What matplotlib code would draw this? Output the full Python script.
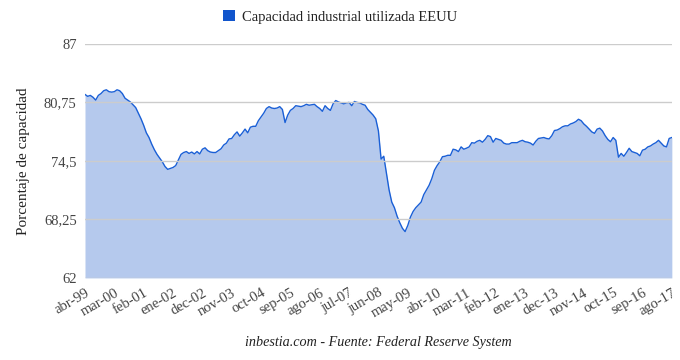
import matplotlib
matplotlib.use("Agg")
import matplotlib.pyplot as plt
from matplotlib.patches import Patch

# Capacidad industrial utilizada EEUU, mensual abr-99 .. ago-17
utilizacion = [
    81.6, 81.4, 81.5, 81.3, 81.0, 81.5, 81.7, 82.0, 82.1, 81.9,
    81.85, 81.9, 82.1, 82.0, 81.7, 81.2, 81.0, 80.8, 80.5, 80.2,
    79.6, 79.0, 78.3, 77.5, 77.0, 76.3, 75.7, 75.2, 74.8, 74.4,
    73.9, 73.6, 73.7, 73.8, 74.0, 74.6, 75.2, 75.4, 75.5, 75.3,
    75.45, 75.25, 75.5, 75.25, 75.75, 75.9, 75.6, 75.45, 75.4, 75.4,
    75.6, 75.8, 76.2, 76.4, 76.85, 76.9, 77.3, 77.6, 77.15, 77.5,
    77.9, 77.5, 78.1, 78.2, 78.2, 78.8, 79.2, 79.6, 80.1, 80.3,
    80.15, 80.1, 80.15, 80.3, 80.0, 78.6, 79.4, 79.9, 80.1, 80.4,
    80.35, 80.3, 80.4, 80.55, 80.45, 80.5, 80.55, 80.3, 80.1, 79.8,
    80.4, 80.1, 79.9, 80.6, 80.95, 80.8, 80.7, 80.6, 80.7, 80.75,
    80.4, 80.85, 80.75, 80.7, 80.55, 80.45, 80.0, 79.7, 79.4, 79.0,
    77.7, 74.7, 75.0, 73.2, 71.4, 70.1, 69.5, 68.6, 67.9, 67.3,
    66.95, 67.6, 68.5, 69.1, 69.5, 69.8, 70.1, 70.9, 71.4, 71.9,
    72.6, 73.5, 74.0, 74.4, 74.95, 75.0, 75.1, 75.1, 75.75, 75.68,
    75.5, 76.0, 75.75, 75.86, 76.0, 76.45, 76.4, 76.6, 76.7, 76.5,
    76.8, 77.2, 77.1, 76.5, 76.9, 76.8, 76.7, 76.4, 76.3, 76.3,
    76.45, 76.45, 76.45, 76.6, 76.7, 76.55, 76.5, 76.4, 76.2, 76.6,
    76.9, 76.95, 77.0, 76.9, 76.85, 77.2, 77.75, 77.8, 77.95, 78.15,
    78.25, 78.25, 78.45, 78.55, 78.7, 78.95, 78.8, 78.45, 78.2, 77.9,
    77.6, 77.45, 77.9, 78.0, 77.7, 77.2, 76.8, 76.55, 77.0, 76.7,
    74.9, 75.3, 75.0, 75.4, 75.85, 75.5, 75.4, 75.3, 75.05, 75.65,
    75.75, 76.0, 76.1, 76.3, 76.45, 76.7, 76.4, 76.1, 76.0, 76.9,
    77.0,
]

etiquetas_x = ["abr-99", "mar-00", "feb-01", "ene-02", "dec-02", "nov-03", "oct-04",
               "sep-05", "ago-06", "jul-07", "jun-08", "may-09", "abr-10", "mar-11",
               "feb-12", "ene-13", "dec-13", "nov-14", "oct-15", "sep-16", "ago-17"]
valores_y = [62, 68.25, 74.5, 80.75, 87]
etiquetas_y = ["62", "68,25", "74,5", "80,75", "87"]

plt.rcParams['font.family'] = ['Liberation Serif', 'DejaVu Serif']

meses = list(range(len(utilizacion)))

fig = plt.figure(figsize=(6.8, 3.6), dpi=100)
ax = fig.add_axes([0.125, 0.228, 0.863, 0.65])

ax.fill_between(meses, valores_y[0], utilizacion, color='#b5c9ed', linewidth=0)
ax.plot(meses, utilizacion, color='#1a5fd6', linewidth=1)

ax.set_xlim(0, len(utilizacion) - 1)
ax.set_ylim(valores_y[0], valores_y[-1])

ax.set_yticks(valores_y)
ax.set_yticklabels(etiquetas_y, fontsize=10.5, color='#444444')
ax.set_xticks(meses[::11])
ax.set_xticklabels(etiquetas_x, rotation=30, ha='right', rotation_mode='anchor',
                   fontsize=10.5, color='#444444')
ax.tick_params(length=0, pad=6)

ax.grid(axis='y', color='#cccccc', linewidth=1)
ax.set_axisbelow(False)
for s in ax.spines.values():
    s.set_visible(False)

ax.set_ylabel('Porcentaje de capacidad', fontsize=11, color='#222222', labelpad=10)

leg = [Patch(facecolor='#1155cc', edgecolor='none')]
fig.legend(leg, ['Capacidad industrial utilizada EEUU'], loc='center',
           bbox_to_anchor=(0.5, 0.953), frameon=False, fontsize=10.5,
           handlelength=0.8, handleheight=0.8, handletextpad=0.5,
           labelcolor='#222222')

fig.text(0.556, 0.048, 'inbestia.com - Fuente: Federal Reserve System',
         ha='center', va='center', fontsize=10.2, style='italic', color='#222222')

fig.savefig('out.png', dpi=100)
